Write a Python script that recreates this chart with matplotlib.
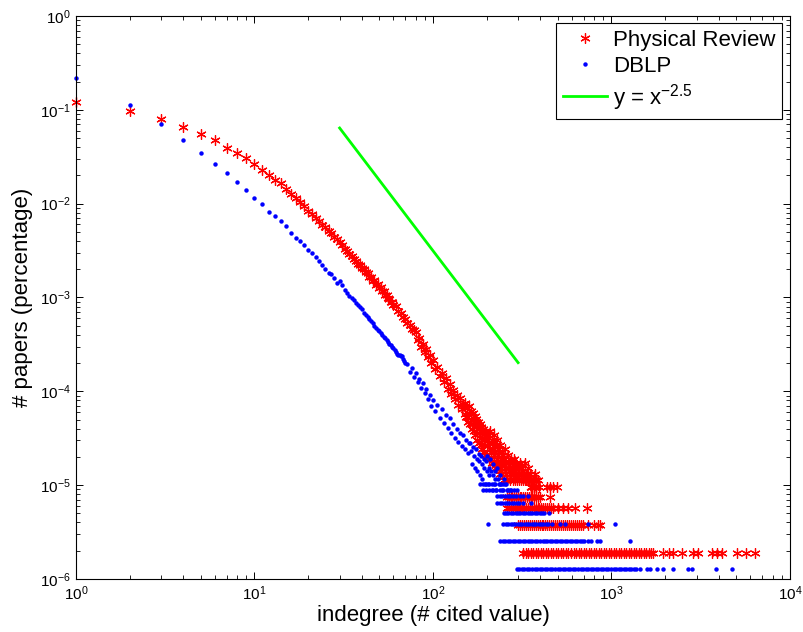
import matplotlib as mpl
mpl.use("Agg")
import matplotlib.pyplot as plt
import numpy as np


mpl.rcParams.update({
    "font.family": "sans-serif",
    "font.sans-serif": ["Liberation Sans", "DejaVu Sans"],
    "mathtext.fontset": "custom",
    "mathtext.rm": "Liberation Sans",
    "mathtext.it": "Liberation Sans:italic",
    "mathtext.bf": "Liberation Sans:bold",
    "axes.linewidth": 0.8,
    "xtick.direction": "in",
    "ytick.direction": "in",
    "xtick.top": True,
    "ytick.right": True,
})

COLORS = {"pr": "#ff0000", "dblp": "#0000ff", "fit": "#00ff00"}

# Physical Review: head of the distribution (indegree, fraction)
pr_x = [1, 2, 3, 4, 5, 6, 7, 8, 9, 10, 11, 12, 13, 14, 15, 16, 17, 18, 19, 20,
        21, 22, 23, 24, 25, 26, 27, 28, 29, 30, 31, 32, 33, 34, 35, 36, 37, 38, 39, 40,
        41, 42, 43, 44, 45, 46, 47, 48, 49, 50, 51, 52, 53, 54, 55, 56, 57, 58, 59, 60,
        62, 64, 66, 68, 70, 72, 74, 76, 78, 80, 82, 84, 86, 88, 90, 92, 94, 96, 98, 100,
        103, 106, 109, 112, 115, 118, 121, 124, 127, 130, 133, 136, 139, 142, 145, 148]
pr_y = [0.120, 0.0977, 0.0800, 0.0659, 0.0556, 0.0472, 0.0394, 0.0349, 0.0303, 0.0262,
        0.0229, 0.0204, 0.0178, 0.0165, 0.0142, 0.0127, 0.0115, 0.0103, 0.00935, 0.00843,
        0.00775, 0.00703, 0.00658, 0.00598, 0.00562, 0.00517, 0.00488, 0.00446, 0.00418, 0.00386,
        0.00364, 0.00328, 0.00313, 0.00288, 0.00274, 0.00254, 0.00245, 0.00227, 0.00220, 0.00204,
        0.00202, 0.00185, 0.00184, 0.00166, 0.00165, 0.00150, 0.00152, 0.00137, 0.00139, 0.00126,
        0.00128, 0.00116, 0.00117, 0.00107, 0.00107, 0.000985, 0.000975, 0.000905, 0.000900, 0.000840,
        8.10e-4, 7.20e-4, 6.90e-4, 6.15e-4, 5.90e-4, 5.30e-4, 5.10e-4, 4.60e-4, 4.45e-4, 4.30e-4,
        3.55e-4, 3.70e-4, 3.00e-4, 3.20e-4, 2.65e-4, 2.80e-4, 2.30e-4, 2.45e-4, 2.00e-4, 2.15e-4,
        1.72e-4, 1.82e-4, 1.45e-4, 1.58e-4, 1.25e-4, 1.38e-4, 1.06e-4, 1.20e-4, 9.3e-5, 1.04e-4,
        8.2e-5, 9.2e-5, 7.2e-5, 8.4e-5, 6.4e-5, 7.4e-5]

# Physical Review tail: paper counts per indegree (one paper = pr_unit)
pr_unit = 1.89e-6
pr_cloud_x = [151, 153, 155, 157, 159, 161, 163, 165, 167, 169, 171, 173, 175, 177, 179,
              181, 183, 185, 187, 189, 191, 193, 195, 197, 199, 201, 203, 205, 207, 209,
              211, 213, 215, 217, 219, 221, 223, 225, 227, 229, 231, 233, 235, 237, 239,
              241, 243, 245, 247, 249, 251, 254, 257, 260, 263, 266, 269, 272, 275, 278,
              281, 284, 287, 290, 293, 296, 299, 303, 307, 311, 315, 319, 323, 327, 331,
              335, 340, 345, 350, 356, 362, 368, 374, 380, 386, 392,
              152, 156, 160, 164, 168, 172, 176, 180, 184, 188, 192, 196, 200, 204, 208,
              212, 216, 220, 224, 228, 232, 236, 240, 244, 248, 253, 258, 262, 267, 271,
              276, 280, 286, 292, 298, 304, 310, 318, 326, 334, 342, 354, 366, 378]
pr_cloud_k = [40, 28, 35, 25, 37, 24, 33, 21, 31, 20, 29, 18, 27, 16, 25,
              15, 24, 14, 22, 13, 21, 12, 20, 11, 19, 11, 18, 10, 17, 20,
              10, 16, 9, 15, 18, 9, 14, 8, 16, 9, 13, 8, 12, 7, 14,
              8, 12, 7, 11, 6, 10, 13, 7, 6, 11, 8, 6, 10, 7, 9,
              6, 10, 7, 6, 9, 6, 8, 6, 9, 7, 8, 6, 7, 9, 6,
              7, 8, 6, 7, 5, 6, 5, 7, 5, 6, 5,
              30, 28, 31, 26, 24, 25, 21, 19, 20, 17, 16, 17, 14, 15, 13,
              12, 13, 11, 12, 10, 11, 9, 10, 9, 10, 8, 9, 8, 9, 7,
              8, 7, 8, 7, 7, 8, 6, 7, 6, 7, 6, 6, 6, 6]
pr_row1 = [320, 331, 342, 353, 365, 377, 389, 402, 415, 429, 443, 458, 473, 488, 504,
           521, 538, 556, 574, 593, 613, 633, 654, 675, 698, 721, 744, 769, 794, 820,
           847, 875, 904, 934, 965, 997, 1030, 1064, 1099, 1135, 1172, 1211, 1251, 1292,
           1335, 1379, 1424, 1471, 1520, 1570, 1622, 1675, 1714,
           1950, 2090, 2219, 2473, 2872, 3064, 3641, 3884, 4143, 5025, 5700, 6369]
pr_row2 = [300, 308, 316, 324, 332, 340, 349, 358, 367, 376, 386, 396, 406, 416, 427,
           438, 449, 460, 472, 484, 496, 509, 522, 535, 549, 563, 577, 592, 607, 622,
           638, 655, 672, 689, 741, 800, 844, 862]
pr_row3 = [259, 266, 272, 280, 287, 294, 302, 309, 317, 325, 333, 341, 350, 358, 367,
           376, 386, 395, 405, 415, 425, 436, 447, 458, 472, 504, 537, 573, 625, 726]
pr_row4 = [259, 266, 272, 279, 285, 292, 299, 306, 313, 321, 329, 337, 345, 353, 361,
           370, 379, 388, 397, 452]
pr_row5 = [352, 358, 366, 376, 434, 452, 470, 497]

# DBLP: head of the distribution
dblp_x = [1, 2, 3, 4, 5, 6, 7, 8, 9, 10, 11, 12, 13, 14, 15, 16, 17, 18, 19, 20,
          21, 22, 23, 24, 25, 26, 27, 28, 29, 30, 31, 32, 33, 34, 35, 36, 37, 38, 39, 40,
          41, 42, 43, 44, 45, 46, 47, 48, 49, 50, 51, 52, 53, 54, 55, 56, 57, 58, 59, 60,
          61, 62, 63, 64, 65, 66, 67, 68, 69, 70, 72, 74, 76, 78, 80, 82, 84, 86, 88, 90,
          92, 94, 96, 98, 100, 103, 106, 109, 112, 115, 118, 121, 124, 127, 130, 133, 136,
          139, 142, 145, 148, 151, 154, 157, 160]
dblp_y = [0.219, 0.113, 0.071, 0.0476, 0.0346, 0.0264, 0.0210, 0.0169, 0.0139, 0.0114,
          0.00989, 0.00824, 0.00733, 0.00649, 0.00574, 0.00483, 0.00431, 0.00404, 0.00366, 0.00319,
          0.00296, 0.00271, 0.00246, 0.00224, 0.00202, 0.00183, 0.00176, 0.00163, 0.00143, 0.00149,
          0.00136, 0.00120, 0.00112, 0.00104, 9.9e-4, 9.4e-4, 8.8e-4, 8.4e-4, 7.9e-4, 7.5e-4,
          6.8e-4, 6.5e-4, 6.2e-4, 5.9e-4, 5.6e-4, 5.3e-4, 4.95e-4, 4.7e-4, 4.5e-4, 4.35e-4,
          4.15e-4, 3.95e-4, 3.82e-4, 3.70e-4, 3.50e-4, 3.32e-4, 3.18e-4, 3.08e-4, 2.98e-4, 2.90e-4,
          2.75e-4, 2.62e-4, 2.52e-4, 2.46e-4, 2.43e-4, 2.40e-4, 2.36e-4, 2.20e-4, 2.08e-4, 2.00e-4,
          1.95e-4, 1.62e-4, 1.78e-4, 1.42e-4, 1.55e-4, 1.25e-4, 1.36e-4, 1.08e-4, 1.22e-4, 9.5e-5,
          1.05e-4, 8.2e-5, 9.2e-5, 7.0e-5, 8.0e-5, 6.2e-5, 7.2e-5, 5.2e-5, 6.4e-5, 4.6e-5,
          5.6e-5, 4.1e-5, 5.2e-5, 3.6e-5, 4.5e-5, 3.2e-5, 4.0e-5, 2.9e-5, 3.6e-5, 2.6e-5,
          3.4e-5, 2.4e-5, 3.0e-5, 2.2e-5, 2.8e-5]

# DBLP tail: paper counts per indegree (one paper = dblp_unit)
dblp_unit = 1.277e-6
dblp_cloud_x = [162, 165, 168, 171, 174, 177, 180, 183, 186, 189, 192, 195, 198, 201,
                204, 207, 210, 213, 216, 219, 222, 225, 229, 233, 238, 243, 250, 258,
                164, 170, 176, 182, 188, 194, 200, 206, 212, 218, 224, 232, 240, 246,
                254, 262, 270]
dblp_cloud_k = [22, 13, 20, 12, 19, 11, 17, 10, 16, 9, 15, 8, 14, 16,
                8, 12, 15, 7, 13, 8, 11, 7, 12, 8, 10, 7, 9, 8,
                18, 16, 15, 14, 13, 12, 11, 10, 11, 10, 9, 9, 8, 8,
                8, 7, 7]
dblp_row1 = [294, 304, 314, 325, 336, 347, 359, 371, 383, 396, 409, 423, 437, 452, 467,
             483, 499, 516, 533, 551, 569, 588, 608, 628, 649, 671, 693, 716, 740, 765,
             790, 817, 844, 872, 901, 931, 962, 994, 1027, 1061, 1097, 1133, 1171, 1210,
             1251, 1293, 1336, 1380, 1445,
             1575, 1643, 1792, 1950, 2219, 2693, 2813, 3849, 4712]
dblp_row2 = [237, 246, 254, 262, 271, 280, 289, 298, 308, 318, 328, 339, 350, 361, 373,
             385, 398, 411, 424, 438, 452, 467, 482, 498, 514, 531, 548, 566, 584, 603,
             622, 642, 663, 684, 706, 740, 770, 826, 862, 1270]
dblp_row3 = [204, 248, 256, 264, 272, 280, 289, 298, 307, 316, 326, 336, 346, 357, 368,
             379, 391, 403, 415, 428, 441, 462, 515, 549, 741, 1046]
dblp_row4 = [249, 257, 265, 273, 282, 291, 300, 309, 319, 329, 339, 350, 361, 372, 384,
             396, 408, 421, 445]
dblp_row5 = [229, 236, 244, 252, 260, 268, 277, 286, 295, 305, 321, 352]
dblp_row6 = [228, 236, 245, 254, 262, 271, 282, 293, 306, 320, 342]
dblp_row7 = [191, 199, 207, 216, 226, 236, 247, 259, 272, 285, 294]
dblp_row8 = [183, 190, 198, 206, 214, 224, 237]

# reference power law y = x^-2.5 (end points of the drawn segment)
fit_x = [30, 300]
fit_y = [6.4e-2, 2.02e-4]


def stack(head_x, head_y, cloud_x, cloud_k, rows, unit):
    xs = [np.asarray(head_x, float), np.asarray(cloud_x, float)]
    ys = [np.asarray(head_y, float), np.asarray(cloud_k, float) * unit]
    for k, row in enumerate(rows, start=1):
        xs.append(np.asarray(row, float))
        ys.append(np.full(len(row), k * unit))
    return np.concatenate(xs), np.concatenate(ys)


def main():
    px, py = stack(pr_x, pr_y, pr_cloud_x, pr_cloud_k,
                   [pr_row1, pr_row2, pr_row3, pr_row4, pr_row5], pr_unit)
    dx, dy = stack(dblp_x, dblp_y, dblp_cloud_x, dblp_cloud_k,
                   [dblp_row1, dblp_row2, dblp_row3, dblp_row4,
                    dblp_row5, dblp_row6, dblp_row7, dblp_row8], dblp_unit)

    fig = plt.figure(figsize=(8.04, 6.32), dpi=100)
    ax = fig.add_axes([0.0945, 0.0839, 0.888, 0.8908])

    ax.plot(px, py, ls="none", marker=(6, 2, 0), ms=7.3, mew=0.9,
            color=COLORS["pr"], label="Physical Review", clip_on=False)
    ax.plot(dx, dy, ls="none", marker="o", ms=3.2, mew=0,
            color=COLORS["dblp"], label="DBLP", clip_on=False)
    ax.plot(fit_x, fit_y, color=COLORS["fit"], lw=2.0, label="y = x$^{-2.5}$")

    ax.set_xscale("log")
    ax.set_yscale("log")
    ax.set_xlim(1, 1e4)
    ax.set_ylim(1e-6, 1)
    ax.tick_params(which="major", length=5, width=0.7, labelsize=11, pad=4)
    ax.tick_params(which="minor", length=2.8, width=0.6)
    ax.set_xlabel("indegree (# cited value)", fontsize=16, labelpad=1)
    ax.set_ylabel("# papers (percentage)", fontsize=16, labelpad=5)

    leg = ax.legend(loc="upper right", bbox_to_anchor=(0.989, 0.987), borderaxespad=0,
                    fontsize=16, numpoints=1, handlelength=2.0, handletextpad=0.25,
                    labelspacing=0.22, borderpad=0.3, fancybox=False, framealpha=1)
    leg.get_frame().set_edgecolor("black")
    leg.get_frame().set_linewidth(0.8)

    fig.savefig("out.png", dpi=100)


if __name__ == "__main__":
    main()
